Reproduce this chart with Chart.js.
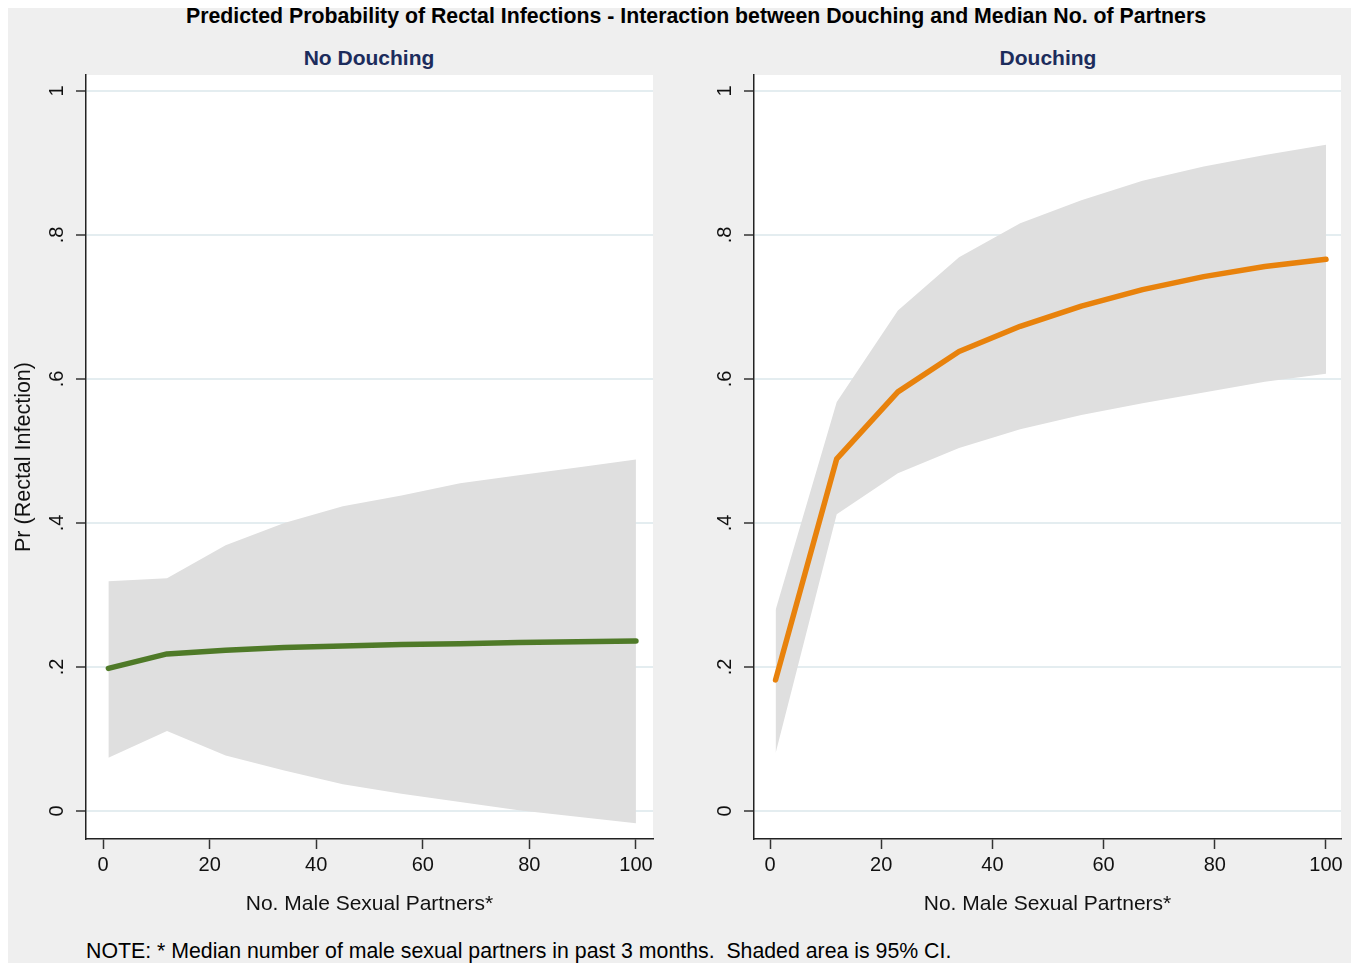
<!DOCTYPE html>
<html><head><meta charset="utf-8">
<script src="https://cdn.jsdelivr.net/npm/chart.js@4.4.0/dist/chart.umd.min.js"></script>
<style>
html,body{margin:0;padding:0;background:#fff;}
body{width:1359px;height:965px;position:relative;overflow:hidden;font-family:"Liberation Sans",Arial,Helvetica,sans-serif;}
#bg{position:absolute;left:8px;top:8px;width:1343px;height:955px;background:#efefef;}
.t{position:absolute;white-space:pre;color:#000;}
#title{top:6px;left:696px;transform:translateX(-50%);font-weight:bold;font-size:21.3px;line-height:21px;}
.pt{top:47px;transform:translateX(-50%);font-weight:bold;font-size:21px;line-height:21px;color:#1c2c5c;}
#note{left:86px;top:941px;font-size:21.3px;line-height:21px;}
canvas{position:absolute;}
</style>
</head><body>
<div id="bg"></div>
<div id="title" class="t">Predicted Probability of Rectal Infections - Interaction between Douching and Median No. of Partners</div>
<div class="t pt" style="left:369px">No Douching</div>
<div class="t pt" style="left:1048px">Douching</div>
<canvas id="c1" width="680" height="849" style="left:0px;top:70px;width:680px;height:849px"></canvas>
<canvas id="c2" width="679" height="849" style="left:680px;top:70px;width:679px;height:849px"></canvas>
<div id="note" class="t">NOTE: * Median number of male sexual partners in past 3 months.  Shaded area is 95% CI.</div>
<script>
// ---- data ----
const partners = [1, 12, 23, 34, 45, 56, 67, 78, 89, 100];
const noDouchePred  = [0.198, 0.218, 0.223, 0.227, 0.229, 0.231, 0.232, 0.234, 0.235, 0.236];
const noDoucheUpper = [0.319, 0.323, 0.369, 0.400, 0.423, 0.438, 0.455, 0.466, 0.477, 0.488];
const noDoucheLower = [0.074, 0.111, 0.077, 0.056, 0.037, 0.024, 0.0125, 0.001, -0.008, -0.017];
const douchePred  = [0.182, 0.489, 0.582, 0.638, 0.673, 0.701, 0.724, 0.742, 0.756, 0.766];
const doucheUpper = [0.279, 0.568, 0.695, 0.769, 0.816, 0.848, 0.875, 0.895, 0.911, 0.925];
const doucheLower = [0.080, 0.412, 0.469, 0.504, 0.530, 0.550, 0.566, 0.581, 0.596, 0.607];
const xTickValues = [0, 20, 40, 60, 80, 100];
const yTickValues = [0, 0.2, 0.4, 0.6, 0.8, 1];
const yTickLabels = ['0', '.2', '.4', '.6', '.8', '1'];

const FAM = '"Liberation Sans", Arial, Helvetica, sans-serif';

const plotBg = {
  id: 'plotBg',
  beforeDraw(chart) {
    const {ctx, chartArea: a} = chart;
    ctx.save(); ctx.fillStyle = '#ffffff';
    ctx.fillRect(a.left, a.top, a.right - a.left, a.bottom - a.top);
    ctx.restore();
  }
};
const rotLabels = {
  id: 'rotLabels',
  afterDraw(chart, args, opts) {
    const y = chart.scales.y, ctx = chart.ctx;
    ctx.save();
    ctx.font = '20px ' + FAM; ctx.fillStyle = '#111';
    ctx.textAlign = 'center'; ctx.textBaseline = 'middle';
    yTickValues.forEach((v, i) => {
      const py = y.getPixelForValue(v);
      ctx.save(); ctx.translate(opts.x, py); ctx.rotate(-Math.PI / 2);
      ctx.fillText(yTickLabels[i], 0, 0); ctx.restore();
    });
    ctx.restore();
  }
};

function pts(vals) { return partners.map((p, i) => ({x: p, y: vals[i]})); }

function makeChart(id, pred, upper, lower, color, xmin, xmax, yw, padRight, showYTitle, labelX) {
  return new Chart(document.getElementById(id), {
    type: 'line',
    data: {
      datasets: [
        {data: pts(pred), borderColor: color, borderWidth: 5.5, pointRadius: 0, tension: 0,
         borderCapStyle: 'round', borderJoinStyle: 'round', fill: false},
        {data: pts(upper), borderWidth: 0, borderColor: 'rgba(0,0,0,0)', pointRadius: 0, tension: 0,
         backgroundColor: '#dfdfdf', fill: '+1'},
        {data: pts(lower), borderWidth: 0, borderColor: 'rgba(0,0,0,0)', pointRadius: 0, tension: 0, fill: false}
      ]
    },
    options: {
      responsive: false, animation: false, devicePixelRatio: 1,
      layout: {padding: {left: 0, right: padRight, top: 5, bottom: 0}},
      plugins: {legend: {display: false}, tooltip: {enabled: false}, rotLabels: {x: labelX}},
      scales: {
        x: {
          type: 'linear', min: xmin, max: xmax,
          afterBuildTicks: s => { s.ticks = xTickValues.map(v => ({value: v})); },
          afterFit: s => { s.height = 80; },
          ticks: {font: {size: 20, family: FAM}, color: '#111', padding: 4, maxRotation: 0, autoSkip: false,
                  callback: v => String(v)},
          grid: {drawOnChartArea: false, drawTicks: true, tickLength: 10, tickColor: '#333', tickWidth: 1.5},
          border: {display: true, color: '#222', width: 1.5},
          title: {display: true, text: 'No. Male Sexual Partners*', font: {size: 21, family: FAM}, color: '#111',
                  padding: {top: 0, bottom: 2}}
        },
        y: {
          type: 'linear', min: -0.039, max: 1.022,
          afterBuildTicks: s => { s.ticks = yTickValues.map(v => ({value: v})); },
          afterFit: s => { s.width = yw; },
          ticks: {display: false},
          grid: {color: '#e4edf0', lineWidth: 2, drawTicks: true, tickLength: 10, tickColor: '#333', tickWidth: 1.5},
          border: {display: true, color: '#222', width: 1.5},
          title: {display: showYTitle, text: 'Pr (Rectal Infection)', font: {size: 21.5, family: FAM}, color: '#111',
                  padding: {top: 11, bottom: 0}}
        }
      }
    },
    plugins: [plotBg, rotLabels]
  });
}

makeChart('c1', noDouchePred, noDoucheUpper, noDoucheLower, '#4f7a28', -3.2, 103.2, 86, 27, true, 57);
makeChart('c2', douchePred, doucheUpper, doucheLower, '#e8820c', -2.88, 102.7, 74, 18, false, 45);
</script>
</body></html>
